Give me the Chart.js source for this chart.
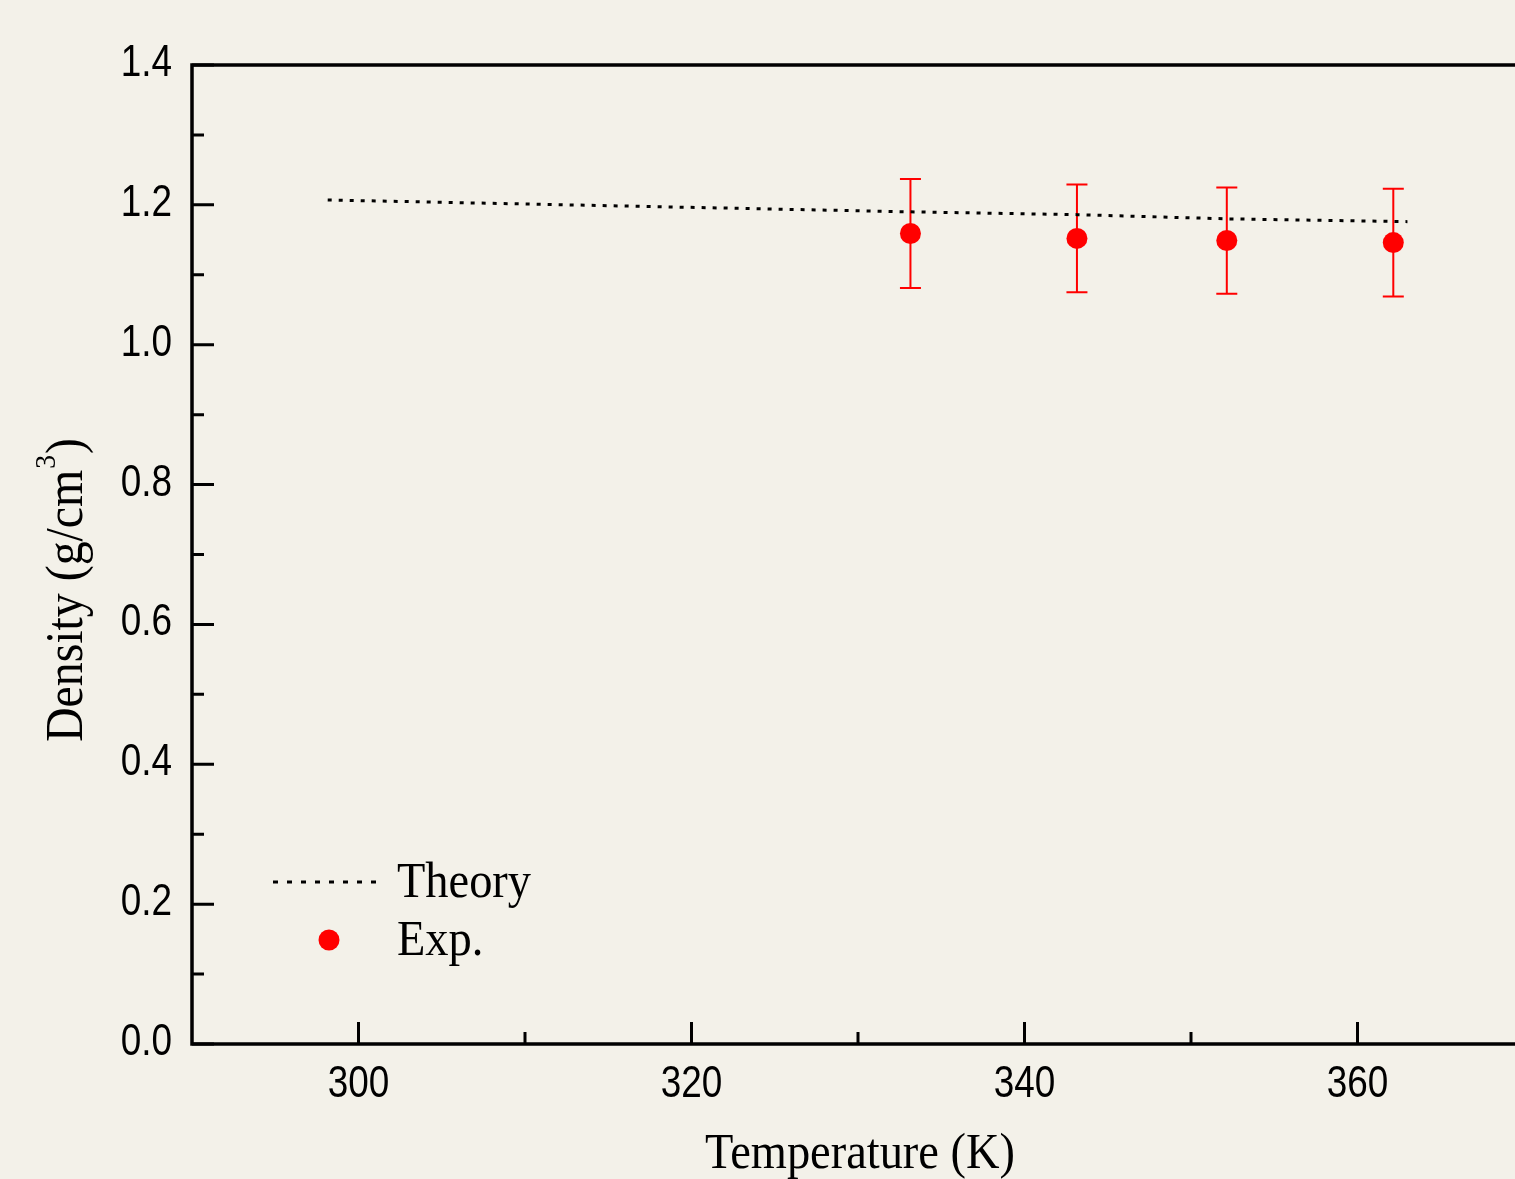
<!DOCTYPE html>
<html>
<head>
<meta charset="utf-8">
<script src="https://cdn.jsdelivr.net/npm/chart.js@4/dist/chart.umd.min.js"></script>
<style>
  html, body { margin: 0; padding: 0; background: #f3f1e9; overflow: hidden; }
  #wrap { width: 1540px; height: 1179px; }
</style>
</head>
<body>
<div id="wrap"><canvas id="diagram" width="1540" height="1179"></canvas></div>
<script>
// data (temperatures in K)
const theoryT = [298.15, 333.15, 343.15, 352.15, 363];
const theoryRho = [1.207, 1.190, 1.186, 1.180, 1.176];
const expT = [333.15, 343.15, 352.15, 362.15];
const expRho = [1.159, 1.152, 1.149, 1.146];
const expErr = [0.078, 0.077, 0.076, 0.077];

const xTicks = [300, 320, 340, 360];
const xMinorTicks = [310, 330, 350, 370];
const yTicks = [0, 0.2, 0.4, 0.6, 0.8, 1.0, 1.2, 1.4];
const yMinorTicks = [0.1, 0.3, 0.5, 0.7, 0.9, 1.1, 1.3];

const sans = "'Liberation Sans', Arial, sans-serif";
const serif = "'Liberation Serif', 'Times New Roman', serif";

function squeezed(ctx, text, x, y, sx) {
  ctx.save();
  ctx.translate(x, y);
  ctx.scale(sx, 1);
  ctx.fillText(text, 0, 0);
  ctx.restore();
}

const errorBars = {
  id: "errorBars",
  beforeDatasetsDraw(chart) {
    const ctx = chart.ctx;
    const xs = chart.scales.x, ys = chart.scales.y;
    ctx.save();
    ctx.strokeStyle = "#ff0000";
    ctx.lineWidth = 2;
    expT.forEach((t, i) => {
      const x = xs.getPixelForValue(t);
      const y1 = ys.getPixelForValue(expRho[i] + expErr[i]);
      const y2 = ys.getPixelForValue(expRho[i] - expErr[i]);
      ctx.beginPath();
      ctx.moveTo(x, y1); ctx.lineTo(x, y2);
      ctx.moveTo(x - 10.5, y1); ctx.lineTo(x + 10.5, y1);
      ctx.moveTo(x - 10.5, y2); ctx.lineTo(x + 10.5, y2);
      ctx.stroke();
    });
    ctx.restore();
  }
};

const frame = {
  id: "frame",
  afterDraw(chart) {
    const ctx = chart.ctx;
    const a = chart.chartArea;
    const xs = chart.scales.x, ys = chart.scales.y;
    ctx.save();
    ctx.strokeStyle = "#000";
    ctx.lineWidth = 3.5;
    ctx.strokeRect(a.left, a.top, a.right - a.left, a.bottom - a.top);

    // inward ticks
    ctx.lineWidth = 3;
    ctx.beginPath();
    xTicks.forEach(v => { const x = xs.getPixelForValue(v); ctx.moveTo(x, a.bottom); ctx.lineTo(x, a.bottom - 22); });
    xMinorTicks.forEach(v => { const x = xs.getPixelForValue(v); ctx.moveTo(x, a.bottom); ctx.lineTo(x, a.bottom - 12); });
    yTicks.forEach(v => { const y = ys.getPixelForValue(v); ctx.moveTo(a.left, y); ctx.lineTo(a.left + 22, y); });
    yMinorTicks.forEach(v => { const y = ys.getPixelForValue(v); ctx.moveTo(a.left, y); ctx.lineTo(a.left + 12, y); });
    ctx.stroke();

    // tick labels (narrow sans)
    ctx.fillStyle = "#000";
    ctx.font = "45px " + sans;
    ctx.textBaseline = "alphabetic";
    ctx.textAlign = "left";
    const sq = 0.82;
    xTicks.forEach(v => {
      const s = String(v);
      const w = ctx.measureText(s).width * sq;
      squeezed(ctx, s, xs.getPixelForValue(v) - w / 2, a.bottom + 53, sq);
    });
    yTicks.forEach(v => {
      const s = v.toFixed(1);
      const w = ctx.measureText(s).width * sq;
      squeezed(ctx, s, a.left - 20 - w, ys.getPixelForValue(v) + 11, sq);
    });

    // axis titles
    ctx.font = "51px " + serif;
    const xt = "Temperature (K)";
    const xw = ctx.measureText(xt).width * 0.91;
    squeezed(ctx, xt, 860 - xw / 2, 1168, 0.91);

    ctx.save();
    ctx.translate(82, 591);
    ctx.rotate(-Math.PI / 2);
    ctx.scale(0.92, 1);
    ctx.font = "52px " + serif;
    const p1 = "Density (g/cm", p3 = ")";
    const w1 = ctx.measureText(p1).width, w3 = ctx.measureText(p3).width;
    ctx.font = "30px " + serif;
    const w2 = ctx.measureText("3").width;
    let x0 = -(w1 + w2 + w3) / 2;
    ctx.font = "52px " + serif;
    ctx.fillText(p1, x0, 0);
    ctx.font = "30px " + serif;
    ctx.fillText("3", x0 + w1 + 1, -27);
    ctx.font = "52px " + serif;
    ctx.fillText(p3, x0 + w1 + w2 + 2, 0);
    ctx.restore();

    // legend
    const th = chart.data.datasets[0], ex = chart.data.datasets[1];
    ctx.strokeStyle = th.borderColor;
    ctx.lineWidth = 3;
    ctx.setLineDash([5, 9]);
    ctx.beginPath();
    ctx.moveTo(a.left + 81, 882); ctx.lineTo(a.left + 193, 882);
    ctx.stroke();
    ctx.setLineDash([]);
    ctx.fillStyle = ex.backgroundColor;
    ctx.beginPath();
    ctx.arc(a.left + 137, 940, 10.5, 0, Math.PI * 2);
    ctx.fill();
    ctx.fillStyle = "#000";
    ctx.font = "51px " + serif;
    squeezed(ctx, th.label, a.left + 205, 897, 0.91);
    squeezed(ctx, ex.label, a.left + 205, 955, 0.91);
    ctx.restore();
  }
};

new Chart(document.getElementById("diagram"), {
  type: "scatter",
  data: {
    datasets: [{
      label: "Theory",
      data: theoryT.map((t, i) => ({ x: t, y: theoryRho[i] })),
      showLine: true,
      borderColor: "#000",
      borderWidth: 3,
      borderDash: [4, 7],
      pointRadius: 0,
      fill: false
    }, {
      label: "Exp.",
      data: expT.map((t, i) => ({ x: t, y: expRho[i] })),
      showLine: false,
      backgroundColor: "#ff0000",
      borderColor: "#ff0000",
      pointRadius: 10.5,
      pointHoverRadius: 10.5,
      borderWidth: 0
    }]
  },
  options: {
    responsive: false,
    animation: false,
    devicePixelRatio: 1,
    layout: { padding: { top: 65, right: 16, left: 0, bottom: 0 } },
    plugins: { legend: { display: false }, tooltip: { enabled: false } },
    scales: {
      x: {
        type: "linear",
        min: 290,
        max: 370,
        grid: { display: false, drawTicks: false },
        border: { display: false },
        afterBuildTicks: s => { s.ticks = xTicks.map(v => ({ value: v })); },
        afterFit: s => { s.height = 135; },
        ticks: { display: false }
      },
      y: {
        min: 0,
        max: 1.4,
        grid: { display: false, drawTicks: false },
        border: { display: false },
        afterBuildTicks: s => { s.ticks = yTicks.map(v => ({ value: v })); },
        afterFit: s => { s.width = 192; },
        ticks: { display: false }
      }
    }
  },
  plugins: [errorBars, frame]
});
</script>
</body>
</html>
